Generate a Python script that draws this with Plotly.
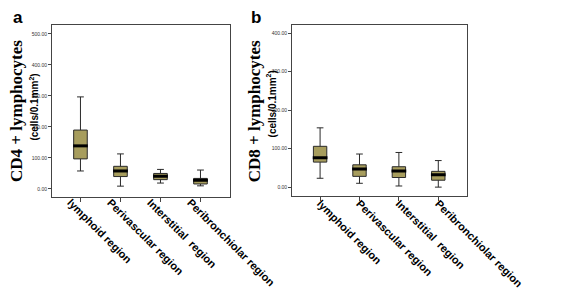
import plotly.graph_objects as go

categories = ["lymphoid region", "Perivascular region", "Interstitial\u00a0 region", "Peribronchiolar region"]

cd4_upper = [297, 113, 63, 61]
cd4_q3 = [190, 73, 50, 34]
cd4_median = [139, 58, 41, 28]
cd4_q1 = [97, 40, 30, 16]
cd4_lower = [58, 9, 19, 10]

cd8_upper = [154, 86, 90, 69]
cd8_q3 = [106, 58, 53, 41]
cd8_median = [76, 47, 42, 32]
cd8_q1 = [65, 28, 25, 18]
cd8_lower = [23, 10, 3, 0]

cd4_ticks = [0, 100, 200, 300, 400, 500]
cd4_ticktext = ["0.00", "100.00", "200.00", "300.00", "400.00", "500.00"]
cd8_ticks = [0, 100, 200, 300, 400]
cd8_ticktext = ["0.00", "100.00", "200.00", "300.00", "400.00"]

FILL = "#A79D5D"
fig = go.Figure()

def add_panel(xa, ya, up, q3, med, q1, lo):
    fig.add_trace(go.Box(
        x=categories, q1=q1, median=med, q3=q3, lowerfence=lo, upperfence=up,
        xaxis=xa, yaxis=ya, fillcolor=FILL, line=dict(color="#2a2a2a", width=1),
        width=0.34, whiskerwidth=0.5, showlegend=False, hoverinfo="skip",
    ))
    fig.add_trace(go.Scatter(
        x=categories, y=med, xaxis=xa, yaxis=ya, mode="markers",
        marker=dict(symbol="line-ew", size=10.5, line=dict(color="black", width=3)),
        showlegend=False, hoverinfo="skip",
    ))

add_panel("x", "y", cd4_upper, cd4_q3, cd4_median, cd4_q1, cd4_lower)
add_panel("x2", "y2", cd8_upper, cd8_q3, cd8_median, cd8_q1, cd8_lower)

W, H = 565, 288
def px_x(p):
    return p / W
def px_y(p):
    return 1 - p / H

axis_common = dict(showline=True, linecolor="#444", linewidth=1, mirror=True,
                   showgrid=False, zeroline=False, ticks="outside", tickcolor="#444")
xfont = dict(family="Liberation Sans, Arial", size=11, color="black", weight="bold")
yfont = dict(family="Liberation Sans, Arial", size=5, color="#333")

fig.update_layout(
    width=W, height=H, margin=dict(l=0, r=0, t=0, b=0),
    paper_bgcolor="white", plot_bgcolor="white",
    xaxis=dict(domain=[px_x(49), px_x(247)], anchor="y", range=[-0.71, 3.74],
               tickangle=45, tickfont=xfont, ticklen=4, ticklabelstandoff=-10,
               ticklabelshift=-10, **axis_common),
    yaxis=dict(domain=[px_y(189), px_y(17)], anchor="x", range=[-26, 529],
               tickvals=cd4_ticks, ticktext=cd4_ticktext, tickfont=yfont, ticklen=3, **axis_common),
    xaxis2=dict(domain=[px_x(316), px_x(511)], anchor="y2", range=[-0.71, 3.74],
                tickangle=45, tickfont=xfont, ticklen=4, ticklabelstandoff=-8,
                ticklabelshift=0, **axis_common),
    yaxis2=dict(domain=[px_y(188), px_y(17)], anchor="x2", range=[-23, 421],
                tickvals=cd8_ticks, ticktext=cd8_ticktext, tickfont=yfont, ticklen=3, **axis_common),
)

title_font = dict(family="Liberation Serif, Times New Roman", size=17, color="black", weight="bold")
sub_font = dict(family="Liberation Sans, Arial", size=10, color="black", weight="bold")
label_font = dict(family="Liberation Sans, Arial", size=17, color="black", weight="bold")

annotations = [
    dict(text="a", x=px_x(11), y=px_y(10), font=label_font),
    dict(text="b", x=px_x(276), y=px_y(10), font=label_font),
    dict(text="CD4 + lymphocytes", x=px_x(10), y=px_y(103), textangle=-90, font=title_font),
    dict(text="(cells/0.1mm<sup>2</sup>)", x=px_x(28.5), y=px_y(99), textangle=-90, font=sub_font),
    dict(text="CD8 + lymphocytes", x=px_x(275), y=px_y(103), textangle=-90, font=title_font),
    dict(text="(cells/0.1mm<sup>2</sup>)", x=px_x(293), y=px_y(96), textangle=-90, font=sub_font),
]
for a in annotations:
    a.update(xref="paper", yref="paper", showarrow=False, xanchor="center", yanchor="middle",
             borderpad=0)
fig.update_layout(annotations=annotations)

fig.write_html("out.html")
